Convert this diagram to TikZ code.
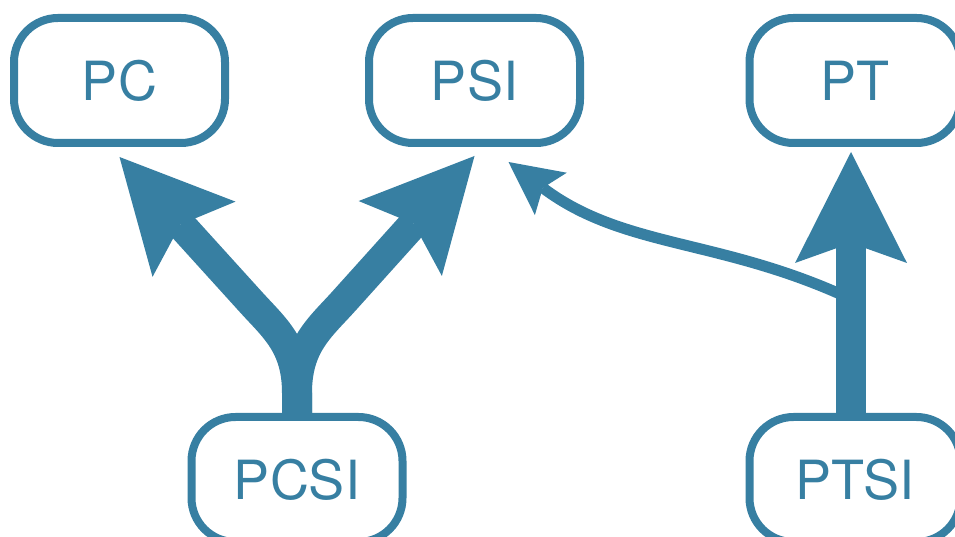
\documentclass[tikz,border=0pt]{standalone}
\usepackage{fontspec}
\setmainfont{TeX Gyre Heros}
\usetikzlibrary{arrows.meta}
\definecolor{track}{RGB}{55,127,162}

\begin{document}
\begin{tikzpicture}[
  x=1pt, y=1pt,
  box/.style={rectangle, rounded corners=44pt, draw=track, line width=8pt, text=track, minimum width=211pt, minimum height=125pt, font=\fontsize{54}{60}\selectfont},
  fat/.style={-{Stealth[length=111pt, width=112pt, inset=20pt, line width=0pt]}, draw=track, line width=30pt},
  slim/.style={-{Stealth[length=53pt, width=53pt, inset=10pt, line width=0pt]}, draw=track, line width=11pt}
]
\useasboundingbox (0,0) rectangle (955,537);

\node[box] (pc) at (119.5,456.5) {PC};
\node[box] (psi) at (474.5,456.5) {PSI};
\node[box] (pt) at (855,456.5) {PT};
\node[box] (pcsi) at (297,57.5) {PCSI};
\node[box] (ptsi) at (855,57.5) {PTSI};

\draw[fat] (pcsi.north) -- ++(0,20) to[out=90, in=-48, out distance=48pt, in distance=36pt] ++(-47,92) -- ([yshift=-10pt]pc.south);
\draw[fat] (pcsi.north) -- ++(0,20) to[out=90, in=-132, out distance=48pt, in distance=36pt] ++(47,92) -- ([yshift=-9pt]psi.south);

\draw[slim] ([xshift=-4pt]ptsi.north) -- ++(0,114) to[out=155, in=-37] ([shift={(34pt,-15pt)}]psi.south);
\draw[fat] ([xshift=-4pt]ptsi.north) -- ([xshift=-4pt, yshift=-5pt]pt.south);

\end{tikzpicture}
\end{document}
